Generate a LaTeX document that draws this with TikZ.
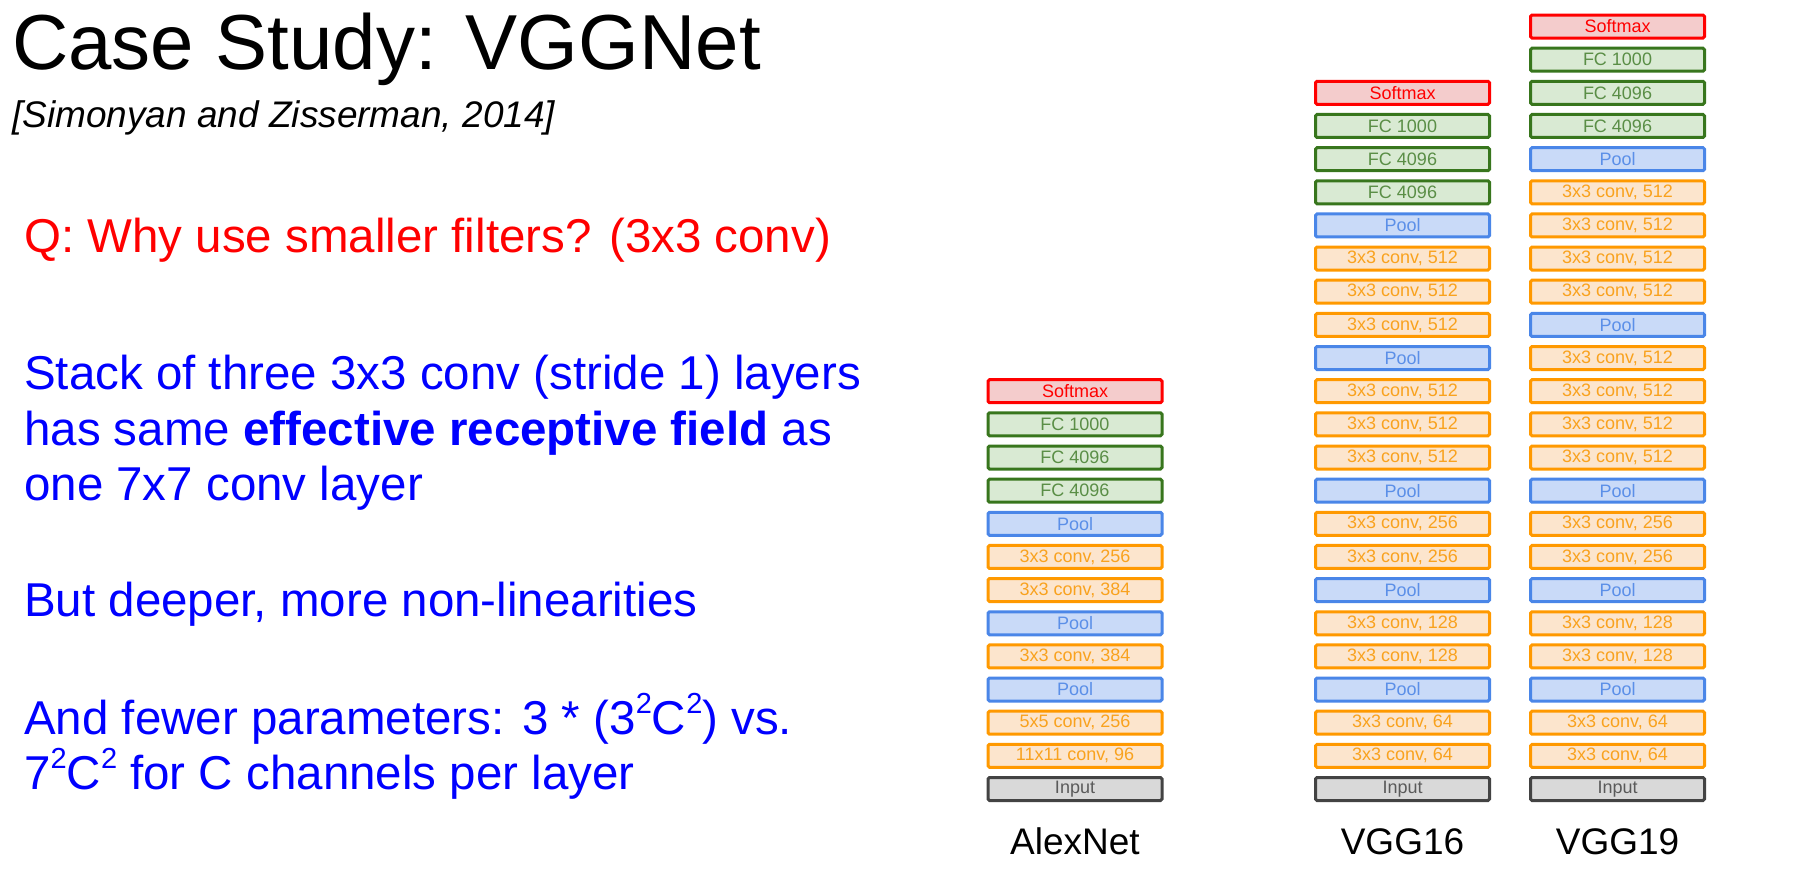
\documentclass[tikz,border=0pt]{standalone}
\usepackage{fontspec}
\setmainfont{Liberation Sans}
\newfontfamily\layerfamily{Liberation Sans}

\definecolor{smline}{HTML}{FF0000}
\definecolor{smfill}{HTML}{F4CCCC}
\definecolor{fcline}{HTML}{38761D}
\definecolor{fcfill}{HTML}{D9EAD3}
\definecolor{fctext}{HTML}{5A8E46}
\definecolor{poolline}{HTML}{4A86E8}
\definecolor{poolfill}{HTML}{C9DAF8}
\definecolor{pooltext}{HTML}{5B8FE8}
\definecolor{convline}{HTML}{FF9900}
\definecolor{convfill}{HTML}{FCE5CD}
\definecolor{convtext}{HTML}{F9A21E}
\definecolor{inline}{HTML}{434343}
\definecolor{infill}{HTML}{D9D9D9}
\definecolor{intext}{HTML}{5A5A5A}
\definecolor{qred}{HTML}{FF0000}
\definecolor{bodyblue}{HTML}{0000FF}

% raised small "2" for the squared terms
\newcommand{\sqtwo}{\raisebox{0.43em}{\fontsize{29}{30}\selectfont 2}}

\tikzset{
  layer/.style={draw, line width=3pt, rounded corners=1.5pt,
    minimum width=174pt, minimum height=23pt, inner sep=0pt,
    font=\layerfamily\fontsize{18}{20}\selectfont},
  softmaxL/.style={layer, draw=smline, fill=smfill, text=smline},
  fcL/.style={layer, draw=fcline, fill=fcfill, text=fctext},
  poolL/.style={layer, draw=poolline, fill=poolfill, text=pooltext},
  convL/.style={layer, draw=convline, fill=convfill, text=convtext},
  inputL/.style={layer, draw=inline, fill=infill, text=intext},
  netname/.style={anchor=base, font=\fontsize{37}{40}\selectfont, text=black, inner sep=0pt},
  bodytext/.style={anchor=base west, inner sep=0pt, font=\fontsize{47.5}{56}\selectfont},
}

\begin{document}
\begin{tikzpicture}[x=1pt, y=-1pt]
  \useasboundingbox (0,0) rectangle (1820,874);

  % title and citation
  \node (title) [anchor=base west, inner sep=0pt, font=\fontsize{78}{90}\selectfont]
    at (12,70) {Case Study: VGGNet};
  \node (cite) [anchor=base west, inner sep=0pt, font=\itshape\fontsize{37}{40}\selectfont]
    at (12,128) {[Simonyan and Zisserman, 2014]};

  % question and answers
  \node (question) [bodytext, text=qred] at (24,253) {Q: Why use smaller filters? (3x3 conv)};
  \node (ans1a) [bodytext, text=bodyblue] at (24,389) {Stack of three 3x3 conv (stride 1) layers};
  \node (ans1b) [bodytext, text=bodyblue] at (24,445) {has same \textbf{effective receptive field} as};
  \node (ans1c) [bodytext, text=bodyblue] at (24,500) {one 7x7 conv layer};
  \node (ans2) [bodytext, text=bodyblue] at (24,616) {But deeper, more non-linearities};
  \node (ans3a) [bodytext, text=bodyblue] at (24,734) {And fewer parameters: 3 * (3\sqtwo C\sqtwo) vs.};
  \node (ans3b) [bodytext, text=bodyblue] at (24,789) {7\sqtwo C\sqtwo{} for C channels per layer};

  % AlexNet column, bottom to top
  \foreach \sty/\txt [count=\i from 0] in {
      inputL/Input, convL/{11x11 conv, 96}, convL/{5x5 conv, 256}, poolL/Pool,
      convL/{3x3 conv, 384}, poolL/Pool, convL/{3x3 conv, 384}, convL/{3x3 conv, 256},
      poolL/Pool, fcL/FC 4096, fcL/FC 4096, fcL/FC 1000, softmaxL/Softmax}
    \node (alex-\i) [\sty] at (1075, {789-\i*33.15}) {\txt};

  % VGG16 column, bottom to top
  \foreach \sty/\txt [count=\i from 0] in {
      inputL/Input, convL/{3x3 conv, 64}, convL/{3x3 conv, 64}, poolL/Pool,
      convL/{3x3 conv, 128}, convL/{3x3 conv, 128}, poolL/Pool,
      convL/{3x3 conv, 256}, convL/{3x3 conv, 256}, poolL/Pool,
      convL/{3x3 conv, 512}, convL/{3x3 conv, 512}, convL/{3x3 conv, 512}, poolL/Pool,
      convL/{3x3 conv, 512}, convL/{3x3 conv, 512}, convL/{3x3 conv, 512}, poolL/Pool,
      fcL/FC 4096, fcL/FC 4096, fcL/FC 1000, softmaxL/Softmax}
    \node (vggA-\i) [\sty] at (1402.5, {789-\i*33.15}) {\txt};

  % VGG19 column, bottom to top
  \foreach \sty/\txt [count=\i from 0] in {
      inputL/Input, convL/{3x3 conv, 64}, convL/{3x3 conv, 64}, poolL/Pool,
      convL/{3x3 conv, 128}, convL/{3x3 conv, 128}, poolL/Pool,
      convL/{3x3 conv, 256}, convL/{3x3 conv, 256}, poolL/Pool,
      convL/{3x3 conv, 512}, convL/{3x3 conv, 512}, convL/{3x3 conv, 512}, convL/{3x3 conv, 512}, poolL/Pool,
      convL/{3x3 conv, 512}, convL/{3x3 conv, 512}, convL/{3x3 conv, 512}, convL/{3x3 conv, 512}, poolL/Pool,
      fcL/FC 4096, fcL/FC 4096, fcL/FC 1000, softmaxL/Softmax}
    \node (vggB-\i) [\sty] at (1617.5, {789-\i*33.15}) {\txt};

  % column captions
  \node (alexname) [netname] at (1075,854) {AlexNet};
  \node (vggAname) [netname] at (1402.5,854) {VGG16};
  \node (vggBname) [netname] at (1617.5,854) {VGG19};
\end{tikzpicture}
\end{document}
